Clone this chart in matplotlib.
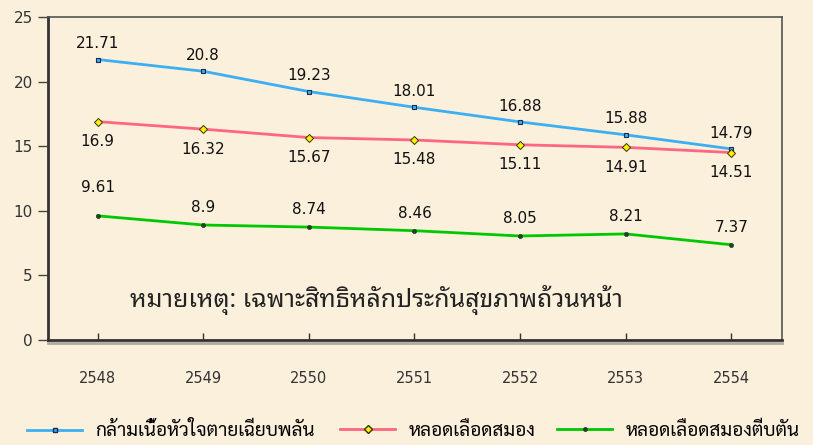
import matplotlib
matplotlib.use("Agg")
import matplotlib.pyplot as plt
from matplotlib.lines import Line2D
from matplotlib.transforms import offset_copy

years = ["2548", "2549", "2550", "2551", "2552", "2553", "2554"]
heart = [21.71, 20.8, 19.23, 18.01, 16.88, 15.88, 14.79]
stroke = [16.9, 16.32, 15.67, 15.48, 15.11, 14.91, 14.51]
ischemic = [9.61, 8.9, 8.74, 8.46, 8.05, 8.21, 7.37]
series_names = ["กล้ามเนื้อหัวใจตายเฉียบพลัน", "หลอดเลือดสมอง", "หลอดเลือดสมองตีบตัน"]
note = "หมายเหตุ: เฉพาะสิทธิหลักประกันสุขภาพถ้วนหน้า"
yticks = [0, 5, 10, 15, 20, 25]

fams = ["DejaVu Sans", "Noto Sans Thai Looped", "Noto Sans Thai", "Sarabun", "Anuphan"]
plt.rcParams["font.family"] = fams
thai_note = ["Noto Sans Thai Looped", "Sarabun", "Anuphan", "DejaVu Sans"]
thai_leg = ["Sarabun", "Noto Sans Thai Looped", "Anuphan", "DejaVu Sans"]

bg = "#FBF0DC"
fig = plt.figure(figsize=(8.13, 4.45), dpi=100, facecolor=bg)
ax = fig.add_axes([48/813, 1-340/445, (782-48)/813, (340-17)/445], facecolor=bg)

x = list(range(len(years)))
c_blue, c_red, c_green = "#3DAEF2", "#FF6680", "#00C800"
ax.plot(x, heart, color=c_blue, lw=2, marker="s", ms=3.5, mfc=c_blue, mec="#1a2a50", mew=0.8, zorder=3)
ax.plot(x, stroke, color=c_red, lw=2, marker="D", ms=4.5, mfc="#FFF000", mec="#333300", mew=0.7, zorder=3)
ax.plot(x, ischemic, color=c_green, lw=2, marker="o", ms=3, mfc="#224422", mec="#224422", mew=0.5, zorder=3)

for xi, v in zip(x, heart):
    ax.annotate(f"{v:g}", (xi, v), xytext=(0, 6), textcoords="offset points",
                ha="center", va="bottom", fontsize=11, color="#111111")
for xi, v in zip(x, stroke):
    ax.annotate(f"{v:g}", (xi, v), xytext=(0, -9), textcoords="offset points",
                ha="center", va="top", fontsize=11, color="#111111")
for i, (xi, v) in enumerate(zip(x, ischemic)):
    ax.annotate(f"{v:g}", (xi, v), xytext=(0, 15 if i == 0 else 7), textcoords="offset points",
                ha="center", va="bottom", fontsize=11, color="#111111")

ax.text((130-48)/734, (340-300)/323, note, transform=ax.transAxes, fontsize=18,
        color="#222222", va="center", ha="left", family=thai_note)

ax.set_xlim(-0.47, 6.48)
ax.set_ylim(0, 25)
ax.set_yticks(yticks)
ax.set_xticks(x)
ax.set_xticklabels(years)
ax.tick_params(axis="y", direction="out", length=7, width=1, colors="#444444", labelsize=11, labelcolor="#333333", pad=4)
ax.tick_params(axis="x", direction="in", length=5, width=1, colors="#333333", labelsize=10.5, labelcolor="#333333", pad=22)
for s in ["left", "bottom"]:
    ax.spines[s].set_color("#333333")
    ax.spines[s].set_linewidth(2)
for s in ["top", "right"]:
    ax.spines[s].set_color("#555555")
    ax.spines[s].set_linewidth(1.2)
ax.plot([0, 1], [0, 0], transform=offset_copy(ax.transAxes, fig, y=-2.5, units="dots"),
        color="#B0AAA0", lw=2, clip_on=False, zorder=1)

handles = [
    Line2D([], [], color=c_blue, lw=2, marker="s", ms=3, mfc=c_blue, mec="#1a2a50"),
    Line2D([], [], color=c_red, lw=2, marker="D", ms=4, mfc="#FFF000", mec="#333300"),
    Line2D([], [], color=c_green, lw=2, marker="o", ms=2.5, mfc="#224422", mec="#224422"),
]
starts = [27, 340, 557]
for h, name, sx in zip(handles, series_names, starts):
    fig.legend([h], [name], loc="center left", bbox_to_anchor=(sx/813, 1-431/445),
               frameon=False, prop={"family": thai_leg, "size": 13.7}, handlelength=2.9,
               handletextpad=0.7, borderpad=0, borderaxespad=0)

fig.savefig("out.png", dpi=100, facecolor=bg)
